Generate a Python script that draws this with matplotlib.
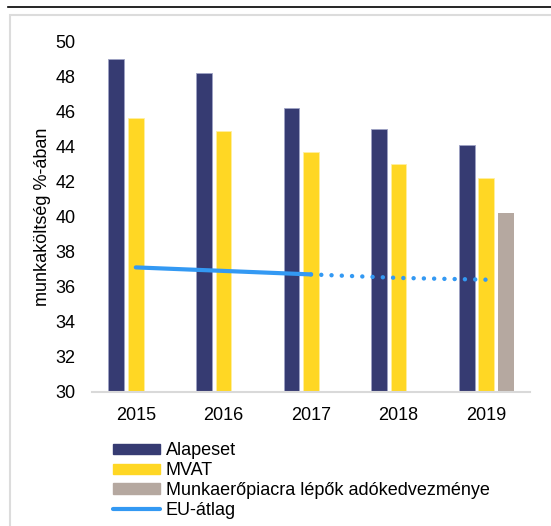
import matplotlib.pyplot as plt
import numpy as np
from matplotlib.lines import Line2D
from matplotlib.patches import Patch, Rectangle

plt.rcParams['font.family'] = ['Liberation Sans', 'DejaVu Sans']

years = ['2015', '2016', '2017', '2018', '2019']
alapeset = [49.0, 48.2, 46.2, 45.0, 44.1]
mvat = [45.6, 44.9, 43.7, 43.0, 42.2]
kedvezmeny = [np.nan, np.nan, np.nan, np.nan, 40.2]
eu_teny = [37.1, 36.9, 36.7]          # 2015-2017
eu_becsles = [36.7, 36.5, 36.4]       # 2017-2019

c_alap = '#363B72'
c_mvat = '#FFD724'
c_kedv = '#B5A8A0'
c_eu = '#3399F3'

fig = plt.figure(figsize=(5.51, 5.26), dpi=100)

# keret es felso vonal
fig.add_artist(Line2D([8 / 551, 1], [1 - 7 / 526] * 2, color='black', lw=1.2))
fig.add_artist(Rectangle((10 / 551, -0.05), 1.1, 1 - 15 / 526 + 0.05,
                         fill=False, ec='#DCDCDC', lw=1.5))

ax = fig.add_axes([92 / 551, 1 - 392 / 526, 438 / 551, 351 / 526])
x = np.arange(len(years))
w = 0.18
off = 0.222
ax.bar(x - off, alapeset, w, color=c_alap, edgecolor='#9EA2C4', lw=0.6)
ax.bar(x, mvat, w, color=c_mvat, edgecolor='#FFEFA0', lw=0.6)
ax.bar(x + off, kedvezmeny, w, color=c_kedv)
ax.plot(x[:3], eu_teny, color=c_eu, lw=3, solid_capstyle='round')
ax.plot(x[2:], eu_becsles, color=c_eu, lw=3.2, linestyle=(0, (0.01, 2.3)),
        dash_capstyle='round')

ax.set_xlim(-0.5, 4.5)
ax.set_ylim(30, 50)
ax.set_yticks(range(30, 51, 2))
ax.set_xticks(x)
ax.set_xticklabels(years)
ax.tick_params(length=0, labelsize=13)
ax.tick_params(axis='y', pad=12)
ax.tick_params(axis='x', pad=11)
for s in ['top', 'right', 'left']:
    ax.spines[s].set_visible(False)
ax.spines['bottom'].set_color('#D9D9D9')
ax.spines['bottom'].set_linewidth(1.5)
ax.set_ylabel('munkaköltség %-ában', fontsize=13, labelpad=3)

handles = [Patch(color=c_alap), Patch(color=c_mvat), Patch(color=c_kedv),
           Line2D([], [], color=c_eu, lw=3, solid_capstyle='round')]
labels = ['Alapeset', 'MVAT', 'Munkaerőpiacra lépők adókedvezménye', 'EU-átlag']
fig.legend(handles, labels, loc='upper left', bbox_to_anchor=(106 / 551, 1 - 435 / 526),
           frameon=False, fontsize=13, handlelength=2.6, handleheight=0.5,
           handletextpad=0.3, labelspacing=0.16, borderaxespad=0)

fig.savefig('out.png', dpi=100)
